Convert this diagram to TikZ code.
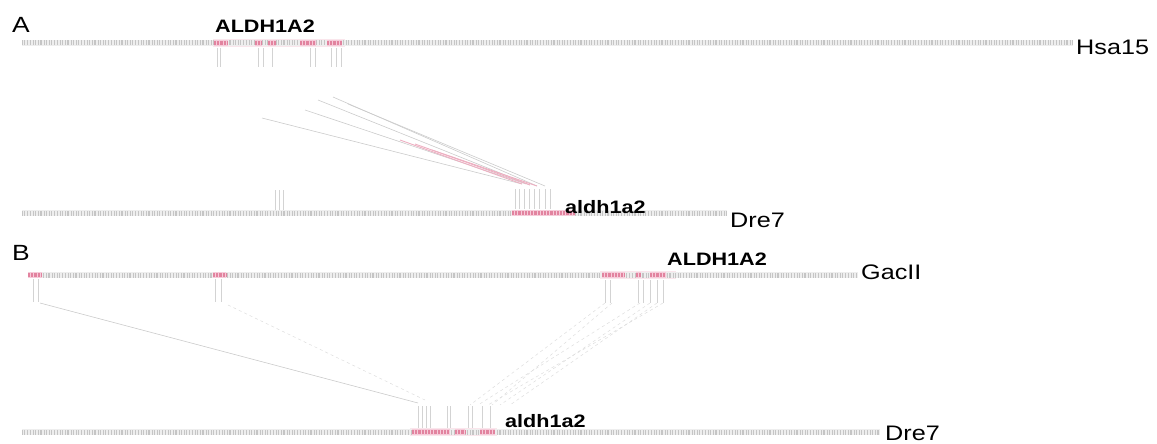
\documentclass[tikz,border=0pt]{standalone}
\usepackage{fontspec}
\setmainfont{Liberation Sans}[FakeStretch=1.2]
\usetikzlibrary{calc}
\definecolor{trackgray}{RGB}{140,140,140}
\definecolor{orthopink}{RGB}{214,78,118}
\definecolor{blockpink}{RGB}{246,204,218}
\tikzset{
  panel/.style={anchor=base west,inner sep=0pt,font=\fontsize{22}{22}\selectfont},
  chrom/.style={anchor=base west,inner sep=0pt,font=\fontsize{21}{21}\selectfont},
  gene/.style={anchor=base west,inner sep=0pt,font=\fontsize{18}{18}\selectfont\bfseries},
  track/.style={draw=trackgray!15,line width=6pt,
    postaction={draw=trackgray!50,line width=5pt,dash pattern=on 0.7pt off 1.4pt on 1.2pt off 2.1pt}},
  halo/.style={draw=blockpink!50,line width=8pt},
  hit/.style={draw=blockpink,line width=6pt,
    postaction={draw=orthopink!70,line width=4pt,dash pattern=on 2.2pt off 1pt}},
  drop/.style={draw=trackgray!38,line width=0.5pt},
  link/.style={draw=trackgray!45,line width=0.6pt},
  faint/.style={draw=trackgray!30,line width=0.5pt,dashed},
  pinklink/.style={draw=orthopink!45,line width=0.9pt}
}

\begin{document}
\begin{tikzpicture}[x=1pt,y=1pt]
\useasboundingbox (0,0) rectangle (1157,-444);

% panel A
\node[panel] (panelA) at (12,-33) {A};
\coordinate (hsaL) at (22,-43);
\coordinate (hsaR) at (1073,-43);
\draw[halo] (213,-43) -- (345,-43);
\draw[track] (hsaL) -- (hsaR);
\foreach \a/\b in {214/228,255/262,268/276,300/316,327/342}
  \draw[hit] (\a,-43) -- (\b,-43);
\foreach \x in {217,220,258,263,272,310,315,331,336,341}
  \draw[drop] (\x,-48) -- (\x,-67);
\node[gene] (aldhA) at (215,-33) {ALDH1A2};
\node[chrom] (hsa) at (1076,-55) {Hsa15};

\coordinate (dreAL) at (22,-213);
\coordinate (dreAR) at (727,-213);
\draw[track] (dreAL) -- (dreAR);
\draw[hit] (512,-213) -- (575,-213);
\foreach \x in {515,519,524,529,534,539,545,550}
  \draw[drop] (\x,-189) -- (\x,-209);
\foreach \x in {275,279,283}
  \draw[drop] (\x,-190) -- (\x,-210);
\node[gene] (aldhAz) at (565,-213) {aldh1a2};
\node[chrom] (dreA) at (730,-227) {Dre7};

\coordinate (sA1) at (262,-118); \coordinate (tA1) at (522,-184);
\coordinate (sA2) at (305,-110); \coordinate (tA2) at (526,-184);
\coordinate (sA3) at (318,-100); \coordinate (tA3) at (530,-185);
\coordinate (sA4) at (333,-97);  \coordinate (tA4) at (537,-186);
\coordinate (sA5) at (348,-104); \coordinate (tA5) at (545,-186);
\foreach \i in {1,...,5}
  \draw[link] (sA\i) -- (tA\i);
\coordinate (pA1) at (400,-140);
\coordinate (pA2) at (415,-144);
\coordinate (pA3) at (432,-150);
\draw[pinklink] (pA1) -- (tA1);
\draw[pinklink] (pA2) -- (tA3);
\draw[pinklink] (pA3) -- (tA4);

% panel B
\node[panel] (panelB) at (12,-260) {B};
\coordinate (gacL) at (30,-275);
\coordinate (gacR) at (858,-275);
\draw[halo] (600,-275) -- (676,-275);
\draw[track] (gacL) -- (gacR);
\foreach \a/\b in {28/42,213/226,602/625,636/641,650/666}
  \draw[hit] (\a,-275) -- (\b,-275);
\foreach \x in {33,38,215,221}
  \draw[drop] (\x,-279) -- (\x,-302);
\foreach \x in {605,610,638,643,650,657,663}
  \draw[drop] (\x,-280) -- (\x,-303);
\node[gene] (aldhB) at (667,-265) {ALDH1A2};
\node[chrom] (gac) at (861,-279) {GacII};

\coordinate (dreBL) at (22,-432);
\coordinate (dreBR) at (880,-432);
\draw[halo] (410,-432) -- (497,-432);
\draw[track] (dreBL) -- (dreBR);
\foreach \a/\b in {412/450,455/465,480/495}
  \draw[hit] (\a,-432) -- (\b,-432);
\foreach \x in {418,422,426,430,447,450,468,472,482,490}
  \draw[drop] (\x,-406) -- (\x,-428);
\node[gene] (aldhBz) at (505,-427) {aldh1a2};
\node[chrom] (dreB) at (885,-440) {Dre7};

\coordinate (sB1) at (40,-303);  \coordinate (tB1) at (418,-403);
\coordinate (sB2) at (228,-305); \coordinate (tB2) at (425,-400);
\draw[link] (sB1) -- (tB1);
\draw[faint] (sB2) -- (tB2);
\foreach \s/\t in {605/470,612/492,640/478,650/500,663/488,657/510}
  \draw[faint] (\s,-303) -- (\t,-405);
\end{tikzpicture}
\end{document}
